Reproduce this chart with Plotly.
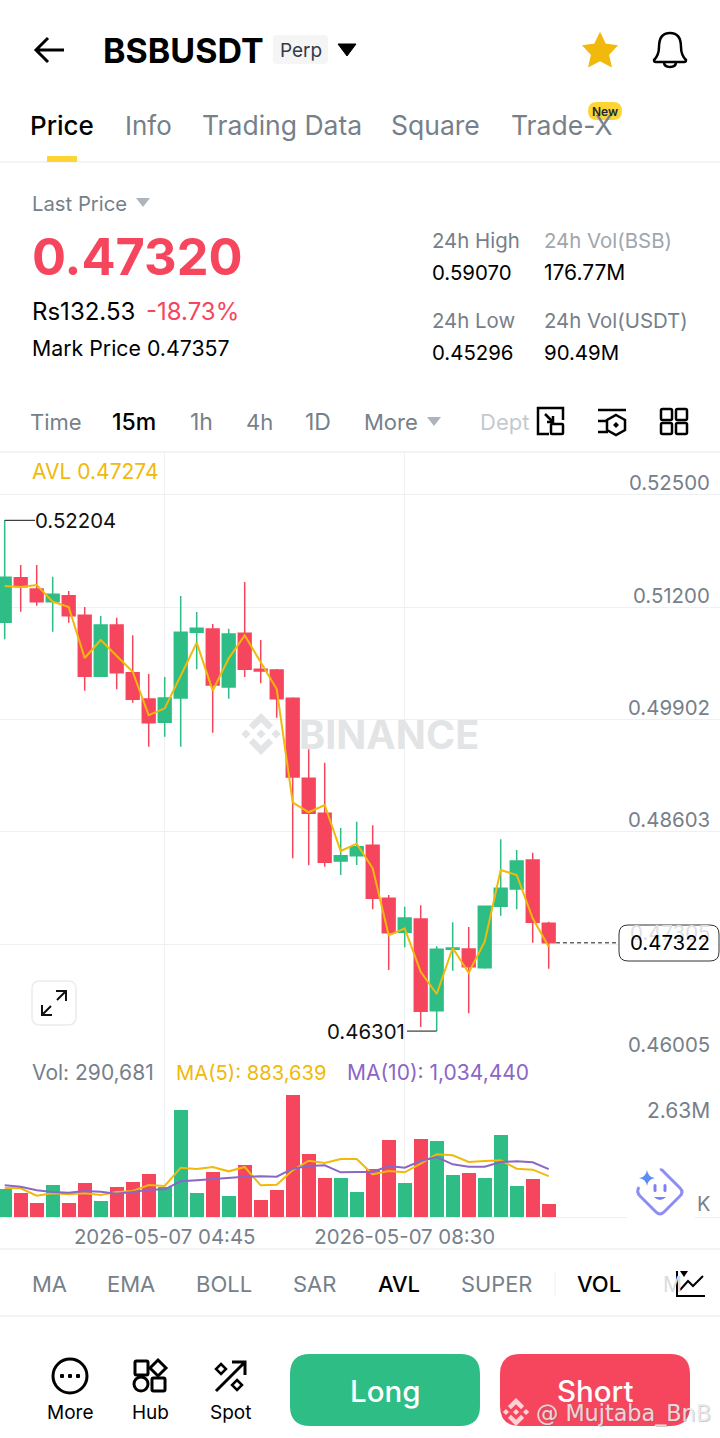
import pandas as pd
import plotly.graph_objects as go

W, H = 720, 1438
FONT = "Inter"
GREEN = "#2EBD85"
RED = "#F6465D"
GOLD = "#F0B90B"
PURPLE = "#8B66C6"
GREY = "#76808A"
LIGHT = "#EEF0F2"
BLACK = "#000000"

times = pd.date_range("2026-05-07 02:15", periods=35, freq="15min")

opens = [0.51025, 0.51541, 0.51410, 0.51263, 0.51333, 0.51106, 0.50401, 0.50994, 0.50443, 0.50139,
         0.49870, 0.50150, 0.50910, 0.50948, 0.50278, 0.50898, 0.50482, 0.50474, 0.50147, 0.49222,
         0.48818, 0.48267, 0.48328, 0.48448, 0.47836, 0.47443, 0.47596, 0.46537, 0.47246, 0.47250,
         0.47034, 0.47743, 0.47943, 0.48278, 0.47547]
highs = [0.52204, 0.51688, 0.51688, 0.51552, 0.51387, 0.51202, 0.51098, 0.51079, 0.50875, 0.50428,
         0.50393, 0.51329, 0.51144, 0.51006, 0.50951, 0.51491, 0.50821, 0.50486, 0.50159, 0.49558,
         0.49403, 0.48648, 0.48721, 0.48679, 0.47874, 0.47739, 0.47755, 0.47281, 0.47558, 0.47504,
         0.47743, 0.48518, 0.48394, 0.48363, 0.47565]
lows = [0.50829, 0.51148, 0.51217, 0.50917, 0.51021, 0.50235, 0.50401, 0.50251, 0.50096, 0.49588,
        0.49703, 0.49588, 0.50482, 0.49749, 0.50142, 0.50393, 0.50320, 0.49923, 0.48298, 0.48217,
        0.48201, 0.48105, 0.48220, 0.47709, 0.47007, 0.47269, 0.46348, 0.46301, 0.46999, 0.46507,
        0.47022, 0.47635, 0.47709, 0.47322, 0.47022]
closes = [0.51545, 0.51437, 0.51263, 0.51349, 0.51102, 0.50401, 0.50994, 0.50443, 0.50135, 0.49865,
          0.50150, 0.50910, 0.50956, 0.50301, 0.50890, 0.50482, 0.50463, 0.50142, 0.49237, 0.48818,
          0.48252, 0.48328, 0.48432, 0.47836, 0.47438, 0.47608, 0.46530, 0.47246, 0.47261, 0.47045,
          0.47743, 0.47951, 0.48267, 0.47558, 0.47322]
avl = [0.51445, 0.51433, 0.51456, 0.51263, 0.51202, 0.50613, 0.50821, 0.50636, 0.50454, 0.49951,
       0.50031, 0.50408, 0.50790, 0.50235, 0.50609, 0.50875, 0.50563, 0.50254, 0.48945, 0.48830,
       0.48914, 0.48382, 0.48467, 0.48182, 0.47408, 0.47489, 0.46987, 0.46730, 0.47261, 0.46976,
       0.47334, 0.48163, 0.48105, 0.47605, 0.47276]
volumes = [611600, 525100, 296000, 685000, 309000, 734700, 345800, 641800, 762800, 935700,
           648300, 2318800, 512200, 966000, 447300, 1130200, 373900, 583500, 2630000, 1355000,
           842800, 842800, 546700, 1043800, 1670500, 741200, 1692100, 1635900, 914100, 944400,
           836300, 1778500, 676400, 821200, 290681]
ma5 = [626700, 619500, 461000, 511400, 489800, 511400, 475400, 540200, 561800, 691500,
       669900, 1066000, 1037200, 1080500, 986800, 1080500, 684300, 698700, 1008400, 1217300,
       1166900, 1253300, 1253300, 922000, 994000, 965200, 1152500, 1354200, 1332600, 1188500,
       1210100, 1224500, 1044400, 1022800, 883639]
ma10 = [684300, 655500, 576200, 540200, 525800, 561800, 547400, 504200, 540200, 590600,
        597800, 770700, 792300, 821100, 835500, 871600, 878800, 871600, 1044400, 1102000,
        1116400, 965200, 972400, 972400, 1102000, 1066000, 1210100, 1296500, 1138000, 1087600,
        1087600, 1188500, 1202900, 1181300, 1034440]

price_ticks = [0.52500, 0.51200, 0.49902, 0.48603, 0.47305, 0.46005]
time_ticks = ["2026-05-07 04:45", "2026-05-07 08:30"]
last_price = 0.47322
max_price = 0.52204
min_price = 0.46301


def rrect(x0, y0, x1, y1, r):
    return (f"M {x0+r},{y0} L {x1-r},{y0} Q {x1},{y0} {x1},{y0+r} L {x1},{y1-r} Q {x1},{y1} {x1-r},{y1} "
            f"L {x0+r},{y1} Q {x0},{y1} {x0},{y1-r} L {x0},{y0+r} Q {x0},{y0} {x0+r},{y0} Z")


def poly(points):
    return "M " + " L ".join(f"{x},{y}" for x, y in points) + " Z"


def diamond(cx, cy, r):
    return poly([(cx, cy - r), (cx + r, cy), (cx, cy + r), (cx - r, cy)])


def circle(cx, cy, r):
    k = 0.5523 * r
    return (f"M {cx-r},{cy} C {cx-r},{cy-k} {cx-k},{cy-r} {cx},{cy-r} C {cx+k},{cy-r} {cx+r},{cy-k} {cx+r},{cy} "
            f"C {cx+r},{cy+k} {cx+k},{cy+r} {cx},{cy+r} C {cx-k},{cy+r} {cx-r},{cy+k} {cx-r},{cy} Z")


def logo(cx, cy, s):
    top = [(0, -1), (.58, -.42), (.36, -.2), (0, -.56), (-.36, -.2), (-.58, -.42)]
    parts = [diamond(cx, cy, .22 * s), diamond(cx - .72 * s, cy, .22 * s), diamond(cx + .72 * s, cy, .22 * s)]
    parts.append(poly([(cx + a * s, cy + b * s) for a, b in top]))
    parts.append(poly([(cx + a * s, cy - b * s) for a, b in top]))
    return " ".join(parts)


shapes = []
annotations = []


def draw(path, fill=None, line=None, width=0, layer="above"):
    shapes.append(dict(type="path", xref="x3", yref="y3", path=path, layer=layer,
                       fillcolor=fill if fill else "rgba(0,0,0,0)",
                       line=dict(color=line if line else "rgba(0,0,0,0)", width=width)))


def text(x, y, s, size=20, color=GREY, anchor="left", weight=400, family=FONT):
    annotations.append(dict(xref="x3", yref="y3", x=x, y=y, text=s, showarrow=False, xanchor=anchor,
                            yanchor="middle", borderpad=0, borderwidth=0,
                            font=dict(family=family, size=size, color=color, weight=weight)))


def price_text(x, y, s, color, anchor, shift=0):
    annotations.append(dict(xref="x3", yref="y", x=x, y=y, text=s, showarrow=False, xanchor=anchor,
                            yanchor="middle", yshift=shift, borderpad=0, borderwidth=0,
                            font=dict(family=FONT, size=20.4, color=color)))


fig = go.Figure()
bar_colors = [GREEN if c >= o else RED for o, c in zip(opens, closes)]

fig.add_trace(go.Candlestick(x=times, open=opens, high=highs, low=lows, close=closes,
                             increasing=dict(line=dict(color=GREEN, width=1.5), fillcolor=GREEN),
                             decreasing=dict(line=dict(color=RED, width=1.5), fillcolor=RED),
                             whiskerwidth=0, xaxis="x", yaxis="y", showlegend=False))
fig.add_trace(go.Scatter(x=times, y=avl, mode="lines", line=dict(color=GOLD, width=2),
                         xaxis="x", yaxis="y", showlegend=False))
fig.add_trace(go.Bar(x=times, y=volumes, marker=dict(color=bar_colors, line=dict(width=0)),
                     width=15 * 60 * 1000 * 0.875, xaxis="x2", yaxis="y2", showlegend=False))
fig.add_trace(go.Scatter(x=times, y=ma5, mode="lines", line=dict(color=GOLD, width=2),
                         xaxis="x2", yaxis="y2", showlegend=False))
fig.add_trace(go.Scatter(x=times, y=ma10, mode="lines", line=dict(color=PURPLE, width=2),
                         xaxis="x2", yaxis="y2", showlegend=False))
# empty trace so the pixel overlay axes exist
fig.add_trace(go.Scatter(x=[None], y=[None], xaxis="x3", yaxis="y3", showlegend=False))

# watermark sits under the candles
draw(logo(261, 734, 21), fill="#E3E4E6", layer="below")
text(299, 735, "BINANCE", 39.5, "#E3E4E6", weight=700)

# dividers
for y_px in [162, 452, 1249, 1316]:
    draw(f"M 0,{y_px} L 720,{y_px}", line=LIGHT, width=1.5)

# price axis labels
for tick in price_ticks:
    price_text(710, tick, f"{tick:.5f}", "#DDE0E3" if tick == 0.47305 else GREY, "right", shift=12)

# high / low markers
shapes.append(dict(type="line", xref="x3", yref="y", x0=4.7, x1=35, y0=max_price, y1=max_price,
                   line=dict(color="#111111", width=1)))
price_text(35, max_price, f"{max_price:.5f}", "#111111", "left")
shapes.append(dict(type="line", xref="x3", yref="y", x0=407, x1=436.7, y0=min_price, y1=min_price,
                   line=dict(color="#111111", width=1)))
price_text(405, min_price, f"{min_price:.5f}", "#111111", "right")

# last price marker
shapes.append(dict(type="line", xref="x3", yref="y", x0=556, x1=618, y0=last_price, y1=last_price,
                   line=dict(color="#666666", width=1.5, dash="4px,3px")))
draw(rrect(619, 925, 719, 961, 9), fill="rgba(255,255,255,0.8)", line="#333333", width=1)
price_text(710, last_price, f"{last_price:.5f}", BLACK, "right")

# header
draw("M 36,50 L 64,50 M 48,38 L 36,50 L 48,62", line=BLACK, width=3)
text(103, 50, "BSBUSDT", 34, BLACK, weight=700)
draw(rrect(273, 35, 328, 64, 4), fill="#F5F5F5")
text(300.5, 50, "Perp", 19, "#333B47", "center")
draw(poly([(338, 44), (356, 44), (347, 56)]), fill=BLACK, line=BLACK, width=1)
draw(poly([(600, 34), (605, 44.5), (616, 46), (608, 54.5), (610.5, 65.5), (600, 60), (589.5, 65.5), (592, 54.5),
           (584, 46), (595, 44.5)]), fill=GOLD, line=GOLD, width=2)
draw("M 654,60 Q 659,55 659,47 Q 659,33 670,33 Q 681,33 681,47 Q 681,55 686,60 Q 686,62 684,62 L 656,62 "
     "Q 654,62 654,60 Z M 664,62 Q 664,67 670,67 Q 676,67 676,62", line=BLACK, width=2.5)

# tabs
text(30, 125, "Price", 26, BLACK, weight=500)
text(125, 125, "Info", 26, GREY)
text(202, 125, "Trading Data", 26.5, GREY)
text(391, 125, "Square", 26.5, GREY)
text(511, 125, "Trade-X", 26.5, GREY)
draw(rrect(47, 156, 77, 162, 0.5), fill="#FCD535")
draw(rrect(588, 102, 622, 120, 9), fill="#FCD535")
text(605, 111, "New", 12, "#202630", "center", weight=600)

# price block
text(32, 203, "Last Price", 20.3, GREY)
draw(poly([(136, 198), (150, 198), (143, 207)]), fill="#AEB4BC")
text(32, 256, "0.47320", 50.5, RED, weight=700)
text(32, 311, "Rs132.53", 24, BLACK)
text(146, 311, "-18.73%", 24, RED)
text(32, 348, "Mark Price 0.47357", 21.3, BLACK)
text(432, 240, "24h High", 20.4, GREY)
text(432, 272, "0.59070", 20.4, BLACK)
text(544, 240, "24h Vol(BSB)", 20.4, "#A0A6AE")
text(544, 272, "176.77M", 21, BLACK)
text(432, 320, "24h Low", 20.4, GREY)
text(432, 352, "0.45296", 20.4, BLACK)
text(544, 320, "24h Vol(USDT)", 20.4, GREY)
text(544, 352, "90.49M", 20.4, BLACK)

# interval row
text(30, 422, "Time", 22, GREY)
text(112, 422, "15m", 23, BLACK, weight=500)
text(190, 422, "1h", 23, GREY)
text(246, 422, "4h", 22, GREY)
text(305, 422, "1D", 23, GREY)
text(364, 422, "More", 22, GREY)
draw(poly([(427, 417), (441, 417), (434, 426)]), fill="#AEB4BC")
text(480, 422, "Dept", 22, "#C6CACF")
draw("M 549,434 L 538,434 L 538,408 L 563,408 L 563,420 M 545,414 L 553,422 M 553,416 L 553,422 L 547,422",
     line=BLACK, width=2.5)
draw(rrect(551, 424, 563, 434, 1), line=BLACK, width=2.5)
draw("M 598,410 L 626,410 M 598,421 L 608,421 M 598,432 L 608,432", line=BLACK, width=2.5)
draw(poly([(616, 415), (625, 420), (625, 430), (616, 435), (607, 430), (607, 420)]), line=BLACK, width=2.5)
draw(diamond(616, 425, 3), fill=BLACK)
for bx, by in [(661, 409), (676, 409), (661, 423), (676, 423)]:
    draw(rrect(bx, by, bx + 11, by + 11, 1.5), line=BLACK, width=2.5)

text(32, 471, "AVL 0.47274", 21, GOLD)

# expand button
draw(rrect(32, 981, 76, 1025, 8), fill="#FFFFFF", line="#EAECEF", width=1.5)
draw("M 42,1015 L 51,1006 M 57,1000 L 66,991 M 56,991 L 66,991 L 66,1001 M 42,1005 L 42,1015 L 52,1015",
     line="#111111", width=2)

# volume panel labels
text(32, 1072, "Vol: 290,681", 21, GREY)
text(176, 1072, "MA(5): 883,639", 20.2, GOLD)
text(347, 1072, "MA(10): 1,034,440", 21, PURPLE)
text(710, 1110, "2.63M", 21, GREY, "right")
text(710, 1204, "K", 20, GREY, "right")

# assistant icon
draw("M 627,1165 L 694,1165 L 694,1222 L 627,1222 Z", fill="#FFFFFF")
draw("M 660,1170 Q 662,1169 664,1172 L 680,1188 Q 684,1192 680,1196 L 664,1212 Q 660,1216 656,1212 "
     "L 640,1196 Q 636,1192 639,1187", line="#8F8DF2", width=3)
draw("M 647,1170 Q 648,1177 655,1178 Q 648,1179 647,1186 Q 646,1179 639,1178 Q 646,1177 647,1170 Z", fill="#5B8DF6")
draw(rrect(653.5, 1184, 656.5, 1192, 1.5), fill="#7C7FF5")
draw(rrect(663.5, 1184, 666.5, 1192, 1.5), fill="#7C7FF5")
draw("M 654,1197 Q 660,1203 666,1197 Z", fill="#7C7FF5")

# indicator row
text(32, 1284, "MA", 22, GREY)
text(107, 1284, "EMA", 22, GREY)
text(196, 1284, "BOLL", 22, GREY)
text(293, 1284, "SAR", 22, GREY)
text(378, 1284, "AVL", 22, BLACK, weight=500)
text(461, 1284, "SUPER", 21.8, GREY)
draw("M 555,1272 L 555,1296", line=LIGHT, width=1)
text(577, 1284, "VOL", 22, BLACK, weight=500)
text(663, 1284, "M", 21, "#D9DCE0")
draw("M 677,1271 L 677,1296 L 705,1296 M 680,1290 L 688,1281 L 693,1286 L 703,1276", line=BLACK, width=2)
draw(poly([(680, 1271), (688, 1271), (684, 1277)]), fill=BLACK)

# bottom nav
draw(circle(70, 1376, 17), line=BLACK, width=3)
for dx in [62, 70, 78]:
    draw(rrect(dx - 2, 1374, dx + 2, 1378, 1), fill=BLACK)
text(70, 1412, "More", 19, BLACK, "center")
draw(rrect(135, 1361, 148, 1375, 1.5), line=BLACK, width=3)
draw(diamond(158, 1368, 8), line=BLACK, width=3)
draw(circle(141, 1384, 7), line=BLACK, width=3)
draw(rrect(152, 1378, 165, 1391, 1.5), line=BLACK, width=3)
text(150, 1412, "Hub", 19, BLACK, "center")
draw("M 216,1391 L 245,1362 M 232,1362 L 245,1362 L 245,1375", line=BLACK, width=3)
draw(diamond(221, 1369, 5), line=BLACK, width=2.5)
draw(diamond(237, 1385, 5), line=BLACK, width=2.5)
text(230, 1412, "Spot", 19, BLACK, "center")

draw(rrect(290, 1354, 480, 1426, 20), fill=GREEN)
text(385, 1391, "Long", 29.5, "#FFFFFF", "center", weight=500)
draw(rrect(500, 1354, 690, 1426, 20), fill=RED)
text(595, 1391, "Short", 29.5, "#FFFFFF", "center", weight=500)

# reposter watermark
draw(logo(516, 1412, 14), fill="rgba(255,225,228,0.9)")
text(537, 1414, "@ Mujtaba_BnB", 22.3, "rgba(110,110,110,0.35)", family="DejaVu Sans")
text(536, 1413, "@ Mujtaba_BnB", 22.3, "rgba(235,235,235,0.9)", family="DejaVu Sans")

# 4.7 px from the left edge to the first candle, 16 px per 15 minutes
x_start = times[0] - pd.Timedelta(minutes=4.7 / 16 * 15)
x_end = times[0] + pd.Timedelta(minutes=(720 - 4.7) / 16 * 15)
x_range = [x_start, x_end]


def dom(top_px, bottom_px):
    return [1 - bottom_px / H, 1 - top_px / H]


price_per_px = 0.00011557
fig.update_layout(
    width=W, height=H, margin=dict(l=0, r=0, t=0, b=0), autosize=False,
    paper_bgcolor="#FFFFFF", plot_bgcolor="rgba(0,0,0,0)",
    font=dict(family=FONT), showlegend=False, hovermode=False, boxgap=0.2, boxgroupgap=0, bargap=0,
    xaxis=dict(domain=[0, 1], range=x_range, anchor="y", rangeslider=dict(visible=False), tickmode="array",
               tickvals=time_ticks, showticklabels=False, showgrid=True, gridcolor=LIGHT, gridwidth=1,
               zeroline=False, ticks=""),
    yaxis=dict(domain=dom(452, 1056.7), range=[0.46005, 0.525 + 42.7 * price_per_px], anchor="x",
               tickmode="array", tickvals=price_ticks, showticklabels=False, showgrid=True,
               gridcolor=LIGHT, gridwidth=1, zeroline=False, ticks=""),
    xaxis2=dict(domain=[0, 1], range=x_range, anchor="y2", tickmode="array", tickvals=time_ticks,
                tickformat="%Y-%m-%d %H:%M", showticklabels=True, showgrid=True, gridcolor=LIGHT,
                gridwidth=1, zeroline=False, ticks="", showline=True, linecolor=LIGHT, linewidth=1,
                tickfont=dict(family=FONT, size=20.4, color=GREY), ticklabelstandoff=2),
    yaxis2=dict(domain=dom(1057, 1217), range=[0, 3457600], anchor="x2", showticklabels=False,
                showgrid=False, zeroline=False, ticks=""),
    xaxis3=dict(domain=[0, 1], range=[0, W], anchor="y3", visible=False),
    yaxis3=dict(domain=[0, 1], range=[H, 0], anchor="x3", visible=False),
    shapes=shapes, annotations=annotations,
)

fig.write_html("out.html", config=dict(displayModeBar=False),
               post_script="document.body.style.margin='0';document.body.style.overflow='hidden';")
